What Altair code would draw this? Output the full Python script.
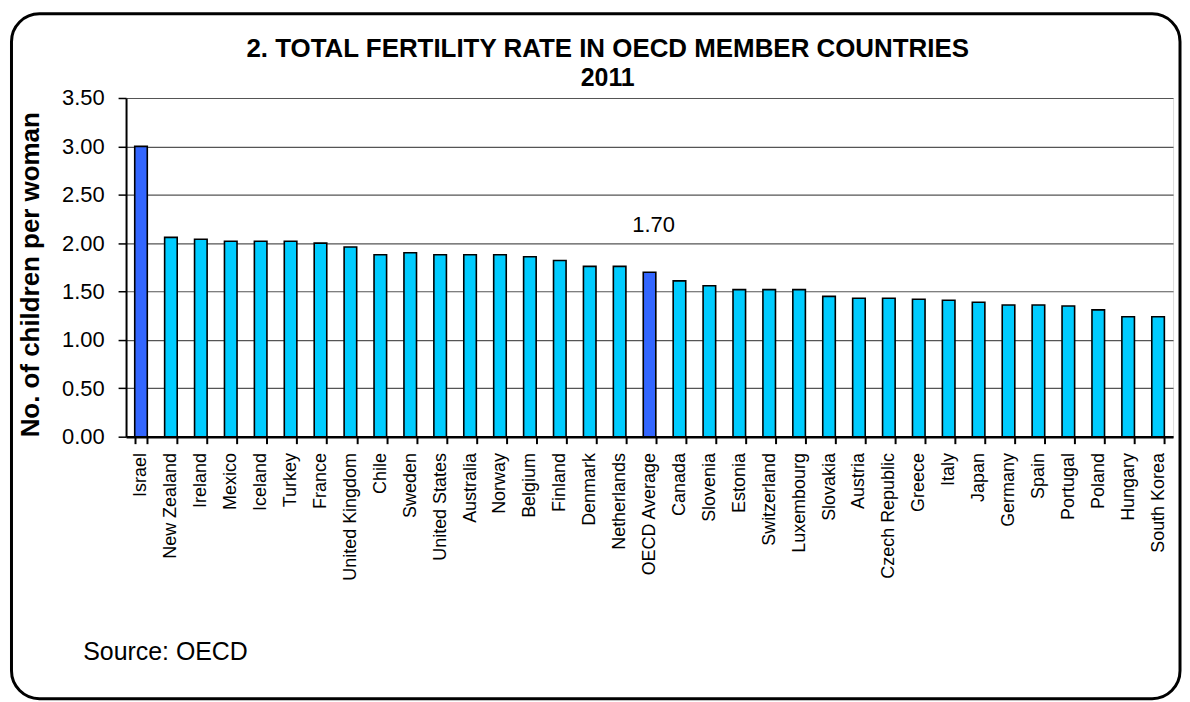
import altair as alt
import pandas as pd

countries = ["Israel", "New Zealand", "Ireland", "Mexico", "Iceland", "Turkey", "France",
             "United Kingdom", "Chile", "Sweden", "United States", "Australia", "Norway",
             "Belgium", "Finland", "Denmark", "Netherlands", "OECD Average", "Canada",
             "Slovenia", "Estonia", "Switzerland", "Luxembourg", "Slovakia", "Austria",
             "Czech Republic", "Greece", "Italy", "Japan", "Germany", "Spain", "Portugal",
             "Poland", "Hungary", "South Korea"]
fertility = [3.00, 2.06, 2.04, 2.02, 2.02, 2.02, 2.00,
             1.96, 1.88, 1.90, 1.88, 1.88, 1.88,
             1.86, 1.82, 1.76, 1.76, 1.70, 1.61,
             1.56, 1.52, 1.52, 1.52, 1.45, 1.43,
             1.43, 1.42, 1.41, 1.39, 1.36, 1.36, 1.35,
             1.31, 1.24, 1.24]
highlighted = ["Israel", "OECD Average"]
y_ticks = [0.0, 0.5, 1.0, 1.5, 2.0, 2.5, 3.0, 3.5]

df = pd.DataFrame({"country": countries, "rate": fertility})
df["group"] = ["highlight" if c in highlighted else "normal" for c in countries]
one = pd.DataFrame({"k": [0]})

FONT = "Liberation Sans"
W, H = 1051, 340

bars = alt.Chart(df).mark_bar(stroke="black", strokeWidth=1.6).encode(
    x=alt.X("country:N", sort=None, title=None,
            scale=alt.Scale(paddingInner=0.58, paddingOuter=0.29),
            axis=alt.Axis(labelAngle=-90, labelFontSize=18, labelAlign="right",
                          labelBaseline="middle", tickBand="extent", tickSize=7,
                          labelPadding=9, domainColor="black", domainWidth=2.5,
                          tickColor="black", tickWidth=2, labelColor="black",
                          labelFont=FONT, grid=False)),
    y=alt.Y("rate:Q", scale=alt.Scale(domain=[0, 3.5], nice=False, zero=True),
            axis=alt.Axis(values=y_ticks, format=".2f", labelFontSize=22, labelFont=FONT,
                          labelColor="black", tickSize=8, tickColor="black", tickWidth=1.5,
                          labelPadding=14, domainColor="black", domainWidth=2,
                          grid=True, gridColor="#555", gridWidth=1.2,
                          title="No. of children per woman", titleFont=FONT,
                          titleFontSize=26, titleFontWeight="bold", titleColor="black",
                          titleAngle=-90, titleX=-96, titleY=177, titleAlign="center",
                          titleBaseline="middle")),
    color=alt.Color("group:N", scale=alt.Scale(domain=["highlight", "normal"],
                                               range=["#3366FF", "#00CCFF"]), legend=None),
)

label = alt.Chart(df).transform_filter(alt.datum.country == "OECD Average").mark_text(
    font=FONT, fontSize=22, color="black", baseline="alphabetic", dy=-40, dx=4
).encode(
    x=alt.X("country:N", sort=None),
    y=alt.Y("rate:Q"),
    text=alt.Text("rate:Q", format=".2f"),
)

border = alt.Chart(one).mark_rect(
    fillOpacity=0, stroke="black", strokeWidth=3, cornerRadius=28
).encode(x=alt.value(-115), x2=alt.value(1058), y=alt.value(-84.5), y2=alt.value(603))

source = alt.Chart(one).mark_text(
    text="Source: OECD", align="left", baseline="alphabetic", fontSize=25, font=FONT,
    color="black"
).encode(x=alt.value(-43), y=alt.value(564))

chart = alt.layer(border, bars, label, source).properties(
    width=W, height=H,
    padding={"left": 1.5, "top": 3, "right": 0, "bottom": 0},
    title=alt.TitleParams(
        text="2. TOTAL FERTILITY RATE IN OECD MEMBER COUNTRIES", subtitle="2011",
        font=FONT, subtitleFont=FONT, fontSize=26, subtitleFontSize=25,
        fontWeight="bold", subtitleFontWeight="bold", color="black",
        subtitleColor="black", anchor="middle", dx=-42, offset=-79, subtitlePadding=4),
).configure_view(stroke="#888", strokeWidth=1.5).configure(background="white")

chart.save("out.html", embed_options={"renderer": "svg", "actions": False})
